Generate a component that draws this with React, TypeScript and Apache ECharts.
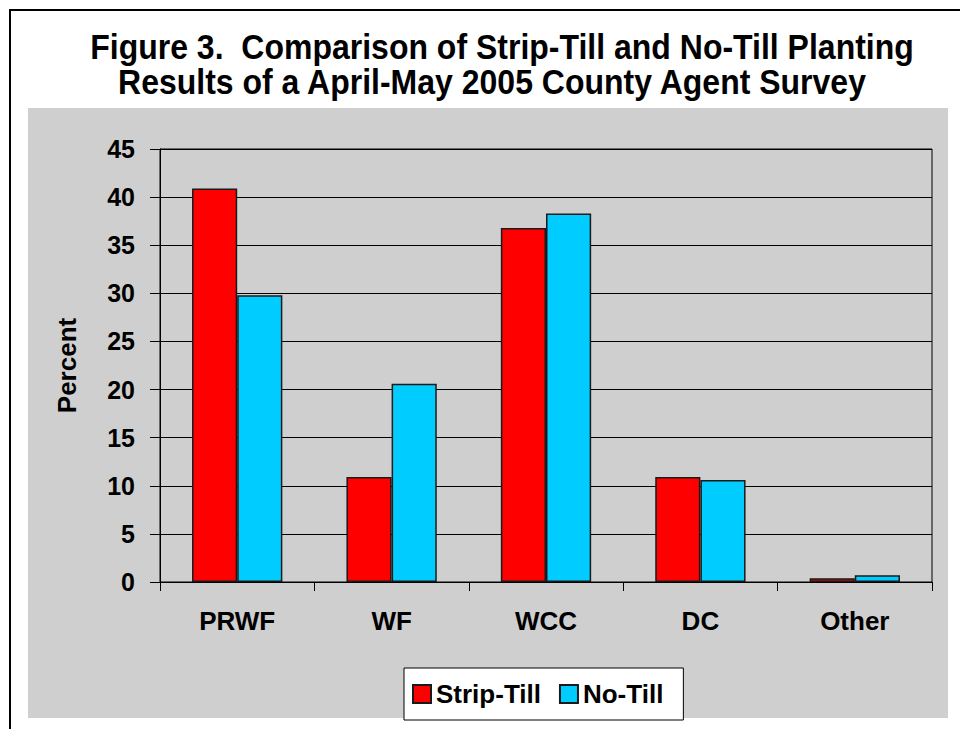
import React, { useEffect, useRef } from "react";
import * as echarts from "echarts";

const categories = ["PRWF", "WF", "WCC", "DC", "Other"];
const stripTill = [40.9, 10.9, 36.8, 10.9, 0.4];
const noTill = [29.8, 20.6, 38.3, 10.6, 0.7];
const titleLine1 = "Figure 3.  Comparison of Strip-Till and No-Till Planting";
const titleLine2 = "Results of a April-May 2005 County Agent Survey";

const FONT = "'Liberation Sans', Arial, Helvetica, sans-serif";

export default function App() {
  const ref = useRef<HTMLDivElement>(null);
  useEffect(() => {
    if (!ref.current) return;
    const chart = echarts.init(ref.current, undefined, { renderer: "svg" });
    chart.setOption({
      animation: false,
      backgroundColor: "#ffffff",
      textStyle: { fontFamily: FONT },
      graphic: [
        {
          type: "rect",
          z: -100,
          shape: { x: 10, y: 10, width: 1000, height: 1000 },
          style: { fill: "#ffffff", stroke: "#000000", lineWidth: 2 },
        },
        {
          type: "rect",
          z: -90,
          shape: { x: 28, y: 108, width: 920, height: 610 },
          style: { fill: "#cfcfcf" },
        },
        {
          type: "text",
          x: 502,
          y: 46,
          scaleY: 1.12,
          style: {
            text: titleLine1,
            fontSize: 32,
            fontWeight: "bold",
            fontFamily: FONT,
            fill: "#000",
            align: "center",
            verticalAlign: "middle",
          },
        },
        {
          type: "text",
          x: 492,
          y: 81,
          scaleY: 1.12,
          style: {
            text: titleLine2,
            fontSize: 32,
            fontWeight: "bold",
            fontFamily: FONT,
            fill: "#000",
            align: "center",
            verticalAlign: "middle",
          },
        },
      ],
      grid: {
        left: 160,
        top: 149,
        right: 28,
        bottom: 147,
        show: true,
        borderColor: "#000",
        borderWidth: 1,
        backgroundColor: "transparent",
        containLabel: false,
      },
      legend: {
        left: 404,
        top: 668,
        padding: [13, 20, 13, 8],
        itemGap: 18,
        itemWidth: 18,
        itemHeight: 18,
        icon: "rect",
        backgroundColor: "#ffffff",
        borderColor: "#000",
        borderWidth: 1,
        textStyle: { fontSize: 26, fontWeight: "bold", color: "#000", fontFamily: FONT },
        data: ["Strip-Till", "No-Till"],
      },
      xAxis: {
        type: "category",
        data: categories,
        axisLine: { show: true, lineStyle: { color: "#000", width: 1 } },
        axisTick: { show: true, length: 9, lineStyle: { color: "#000" } },
        axisLabel: { fontSize: 26, fontWeight: "bold", color: "#000", margin: 26, fontFamily: FONT },
      },
      yAxis: {
        type: "value",
        min: 0,
        max: 45,
        interval: 5,
        name: "Percent",
        nameLocation: "middle",
        nameRotate: 90,
        nameGap: 80,
        nameTextStyle: { fontSize: 26, fontWeight: "bold", color: "#000", fontFamily: FONT },
        axisLine: { show: true, lineStyle: { color: "#000", width: 1 } },
        axisTick: { show: true, length: 10, lineStyle: { color: "#000" } },
        axisLabel: { fontSize: 25, fontWeight: "bold", color: "#000", margin: 25, fontFamily: FONT },
        splitLine: { show: true, lineStyle: { color: "#000", width: 1 } },
      },
      series: [
        {
          name: "Strip-Till",
          type: "bar",
          data: stripTill,
          barGap: "0%",
          barCategoryGap: "41.5%",
          itemStyle: { color: "#ff0000", borderColor: "#1a1a1a", borderWidth: 1.5 },
        },
        {
          name: "No-Till",
          type: "bar",
          data: noTill,
          barGap: "0%",
          barCategoryGap: "41.5%",
          itemStyle: { color: "#00ccff", borderColor: "#1a1a1a", borderWidth: 1.5 },
        },
      ],
    });
    return () => chart.dispose();
  }, []);
  return (
    <div
      ref={ref}
      style={{ position: "absolute", left: 0, top: 0, width: 960, height: 729 }}
    />
  );
}
